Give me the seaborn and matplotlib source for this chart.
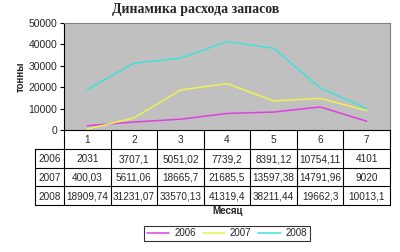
import matplotlib
matplotlib.use("Agg")
import matplotlib.pyplot as plt
import seaborn as sns
import pandas as pd

months = ["1", "2", "3", "4", "5", "6", "7"]
years = ["2006", "2007", "2008"]
v2006 = [2031, 3707.1, 5051.02, 7739.2, 8391.12, 10754.11, 4101]
v2007 = [400.03, 5611.06, 18665.7, 21685.5, 13597.38, 14791.96, 9020]
v2008 = [18909.74, 31231.07, 33570.13, 41319.4, 38211.44, 19662.3, 10013.1]
labels2006 = ["2031", "3707,1", "5051,02", "7739,2", "8391,12", "10754,11", "4101"]
labels2007 = ["400,03", "5611,06", "18665,7", "21685,5", "13597,38", "14791,96", "9020"]
labels2008 = ["18909,74", "31231,07", "33570,13", "41319,4", "38211,44", "19662,3", "10013,1"]
yticks = [0, 10000, 20000, 30000, 40000, 50000]
colors = ["#E040E0", "#F0F050", "#40E0D8"]

series = [v2006, v2007, v2008]
cell_labels = [labels2006, labels2007, labels2008]

sns.set_theme(style="white")
plt.rcParams["font.family"] = ["Liberation Sans", "DejaVu Sans"]

W, H = 400, 252
fig = plt.figure(figsize=(W / 100, H / 100), dpi=100)
fig.patch.set_facecolor("white")

def px_axes(x0, y0, x1, y1):
    return fig.add_axes([x0 / W, 1 - y1 / H, (x1 - x0) / W, (y1 - y0) / H])

# main plot
ax = px_axes(64, 23, 390, 130)
ax.set_facecolor("#C0C0C0")
rows = []
for yr, vals in zip(years, series):
    for i, v in enumerate(vals):
        rows.append({"pos": i, "val": v, "year": yr})
df = pd.DataFrame(rows)
sns.lineplot(data=df, x="pos", y="val", hue="year", palette=colors, ax=ax,
             linewidth=1.1, legend=False)
ax.set_xlim(-0.5, len(months) - 0.5)
ax.set_ylim(0, 50000)
ax.set_yticks(yticks)
ax.set_yticklabels([str(t) for t in yticks], fontsize=7.5)
ax.set_xticks([])
ax.set_xlabel("")
ax.set_ylabel("тонны", fontsize=7, fontweight="bold", labelpad=2)
ax.tick_params(axis="y", length=3, width=0.8, color="black", pad=2, left=True)
for s in ["top", "right"]:
    ax.spines[s].set_color("#808080")
    ax.spines[s].set_linewidth(0.8)
ax.spines["left"].set_color("black")
ax.spines["left"].set_linewidth(0.8)
ax.spines["bottom"].set_color("black")
ax.spines["bottom"].set_linewidth(0.8)

# table
col_w = (390 - 64) / len(months)
yc_w = (64 - 35) / col_w
tx = px_axes(35, 130, 390, 205)
tx.set_xlim(-0.5 - yc_w, len(months) - 0.5)
tx.set_ylim(4, 0)
tx.axis("off")
lw = 0.8
for r in [1, 2, 3, 4]:
    tx.plot([-0.5 - yc_w, len(months) - 0.5], [r, r], color="black", lw=lw, clip_on=False)
for k in range(len(months) + 1):
    tx.plot([k - 0.5, k - 0.5], [0, 4], color="black", lw=lw, clip_on=False)
tx.plot([-0.5 - yc_w, -0.5 - yc_w], [1, 4], color="black", lw=lw, clip_on=False)
fs = 7.2
for i, m in enumerate(months):
    tx.text(i, 0.55, m, ha="center", va="center", fontsize=fs)
for r, (yr, labs) in enumerate(zip(years, cell_labels)):
    tx.text(-0.5 - yc_w / 2, r + 1.55, yr, ha="center", va="center", fontsize=fs)
    for i, lab in enumerate(labs):
        tx.text(i, r + 1.55, lab, ha="center", va="center", fontsize=fs)

# titles
fig.text(196 / W, 1 - 10 / H, "Динамика расхода запасов", ha="center", va="center",
         fontsize=10, fontweight="bold", family=["Liberation Serif", "DejaVu Serif"])
fig.text(228 / W, 1 - 211 / H, "Месяц", ha="center", va="center",
         fontsize=7, fontweight="bold")

# legend
from matplotlib.lines import Line2D
handles = [Line2D([0], [0], color=c, lw=1.1) for c in colors]
leg = fig.legend(handles, years, loc="center", bbox_to_anchor=(227 / W, 1 - 233.5 / H),
                 ncol=3, fontsize=7, frameon=True, fancybox=False, handlelength=2.3,
                 columnspacing=0.7, handletextpad=0.5, borderpad=0.3,
                 borderaxespad=0)
leg.get_frame().set_edgecolor("black")
leg.get_frame().set_linewidth(0.8)

fig.savefig("out.png", dpi=100, facecolor="white")
